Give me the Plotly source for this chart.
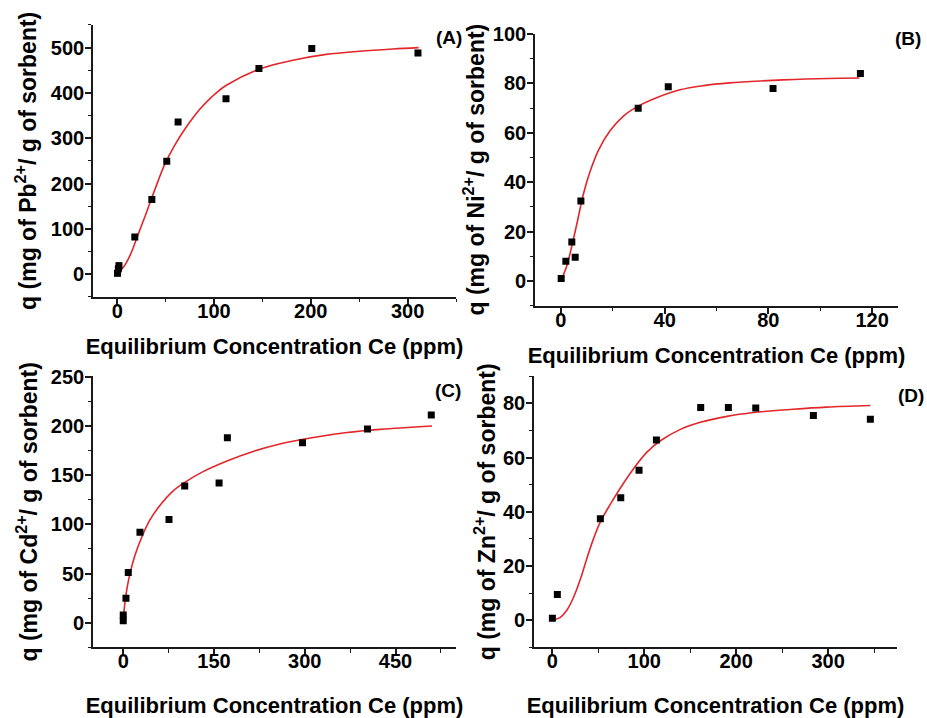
import plotly.graph_objects as go

# ---------------- data ----------------
# (A) Pb2+
pb_ce = [0.3, 1.2, 1.8, 18.2, 35.8, 51.2, 62.9, 112.4, 146.4, 201.0, 310.7]
pb_q = [2, 12, 19, 82, 165, 249, 336, 387, 454, 498, 488]
pb_fit_ce = [0, 7.9, 14.8, 21.6, 28.6, 35.4, 42.3, 49.2, 59.5, 69.8, 85.3, 98.0, 112.8, 147.1, 181.4, 215.9, 250.2, 284.6, 311.3]
pb_fit_q = [0, 20, 49, 88, 127, 167, 206, 243, 285, 320, 364, 392, 417, 453, 472, 485, 492, 497, 500]

# (B) Ni2+
ni_ce = [0.1, 1.9, 4.2, 5.5, 7.7, 29.8, 41.4, 81.8, 115.5]
ni_q = [1.0, 8.0, 15.8, 9.6, 32.4, 69.9, 78.6, 77.9, 84.0]
ni_fit_ce = [0, 2.3, 4.2, 6.2, 8.7, 11.3, 14.5, 19.0, 24.1, 29.8, 36.9, 45.9, 55.0, 65.0, 77.0, 90.0, 103.0, 115.1]
ni_fit_q = [0, 6.3, 14.2, 23.4, 35.3, 44.5, 53.0, 60.9, 66.8, 70.8, 74.2, 77.4, 79.1, 80.2, 81.0, 81.6, 82.0, 82.2]

# (C) Cd2+
cd_ce = [0, 0, 4.5, 8.3, 27.6, 75.6, 101.6, 158.4, 172.1, 296.2, 403.7, 509.1]
cd_q = [2, 8, 25, 51, 92, 105, 139, 142, 188, 183, 197, 211]
cd_fit_ce = [0, 2.3, 6.1, 11.6, 18.9, 29.8, 43.6, 60.2, 82.2, 104.3, 131.9, 170.5, 214.6, 258.8, 314.4, 369.6, 424.7, 510.3]
cd_fit_q = [2, 18, 34.7, 51.2, 67.7, 85.9, 104, 118.9, 133.8, 143.7, 153.6, 164.2, 174.1, 181.7, 188.3, 193.3, 196.5, 199.9]

# (D) Zn2+
zn_ce = [0, 5.4, 52.2, 74.4, 94.3, 113.2, 161.4, 191.5, 221.3, 284.0, 346.0]
zn_q = [0.8, 9.5, 37.4, 45.2, 55.3, 66.5, 78.5, 78.5, 78.3, 75.5, 74.1]
zn_fit_ce = [0, 8.7, 15.9, 23.2, 30.5, 37.7, 44.9, 52.2, 63.1, 74.0, 88.5, 102.9, 117.5, 139.3, 161.0, 190.0, 219.0, 261.8, 298.1, 346.0]
zn_fit_q = [0, 1.1, 3.8, 8.6, 15.2, 23.0, 30.2, 36.3, 42.8, 48.8, 56.0, 62.0, 66.2, 70.4, 73.0, 75.2, 76.6, 77.8, 78.6, 79.2]

panel_labels = ["(A)", "(B)", "(C)", "(D)"]
ions = ["Pb", "Ni", "Cd", "Zn"]
x_title = "Equilibrium Concentration Ce (ppm)"

# ---------------- figure ----------------
W, H = 927, 718
FONT = "Liberation Sans, Arial, sans-serif"
RED = "#e3262b"
AX = "#1a1a1a"

fig = go.Figure()

panels = [
    (pb_ce, pb_q, pb_fit_ce, pb_fit_q),
    (ni_ce, ni_q, ni_fit_ce, ni_fit_q),
    (cd_ce, cd_q, cd_fit_ce, cd_fit_q),
    (zn_ce, zn_q, zn_fit_ce, zn_fit_q),
]

for i, (ce, q, fce, fq) in enumerate(panels):
    xa = "x" if i == 0 else f"x{i+1}"
    ya = "y" if i == 0 else f"y{i+1}"
    fig.add_trace(go.Scatter(x=fce, y=fq, mode="lines", line=dict(color=RED, width=1.6, shape="spline", smoothing=1.0),
                             xaxis=xa, yaxis=ya, showlegend=False, hoverinfo="skip"))
    fig.add_trace(go.Scatter(x=ce, y=q, mode="markers", marker=dict(symbol="square", size=7, color="black"),
                             xaxis=xa, yaxis=ya, showlegend=False))

# pixel geometry of the four plot areas (left, right, top, bottom)
boxes = [
    (93, 456, 14, 292),
    (535, 898, 23, 301),
    (93, 456, 373, 650),
    (534, 897, 373, 650),
]
xranges = [[-25, 350], [-10, 130], [-50, 550], [-20, 375]]
yranges = [[-50, 550.5], [-10, 100.2], [-25, 250.5], [-10, 90]]
xdt = [(100, 50), (40, 20), (150, 75), (100, 50)]
ydt = [(100, 50), (20, 10), (50, 25), (20, 10)]
x_standoff = [18, 18, 30, 30]
y_standoff = [8, 2, 7, 1]

common = dict(showgrid=False, zeroline=False, showline=True, linecolor=AX, linewidth=1.6,
              ticks="outside", ticklen=6, tickwidth=1.5, tickcolor=AX,
              tickfont=dict(family=FONT, size=20, color="black", weight="bold"))

layout = dict(width=W, height=H, margin=dict(l=0, r=0, t=0, b=0),
              paper_bgcolor="white", plot_bgcolor="white", showlegend=False)

annotations = []
for i in range(4):
    l, r, t, b = boxes[i]
    xk = "xaxis" if i == 0 else f"xaxis{i+1}"
    yk = "yaxis" if i == 0 else f"yaxis{i+1}"
    ya = "y" if i == 0 else f"y{i+1}"
    xa = "x" if i == 0 else f"x{i+1}"
    layout[xk] = dict(common, domain=[l / W, r / W], anchor=ya, range=xranges[i],
                      dtick=xdt[i][0], tick0=0, ticklabelstandoff=-11,
                      minor=dict(dtick=xdt[i][1], tick0=0, ticks="outside", ticklen=3.5, tickwidth=1.3, tickcolor=AX),
                      title=dict(text=x_title, standoff=x_standoff[i],
                                 font=dict(family=FONT, size=22, color="black", weight="bold")))
    layout[yk] = dict(common, domain=[1 - b / H, 1 - t / H], anchor=xa, range=yranges[i],
                      dtick=ydt[i][0], tick0=0, ticklabelstandoff=-3,
                      minor=dict(dtick=ydt[i][1], tick0=0, ticks="outside", ticklen=3.5, tickwidth=1.3, tickcolor=AX),
                      title=dict(text=f"q (mg of {ions[i]}<sup>2+</sup>/ g of sorbent)", standoff=y_standoff[i],
                                 font=dict(family=FONT, size=23, color="black", weight="bold")))

label_pos = [(449, 27), (908, 28), (448, 388), (911, 393)]
for lab, (px, py) in zip(panel_labels, label_pos):
    annotations.append(dict(text=lab, x=px / W, y=1 - py / H, xref="paper", yref="paper",
                            xanchor="center", yanchor="middle", showarrow=False,
                            font=dict(family=FONT, size=19, color="black", weight="bold")))
layout["annotations"] = annotations

fig.update_layout(**layout)

fig.write_html("out.html", config={"displayModeBar": False},
               post_script="document.body.style.margin='0';document.body.style.overflow='hidden';")
